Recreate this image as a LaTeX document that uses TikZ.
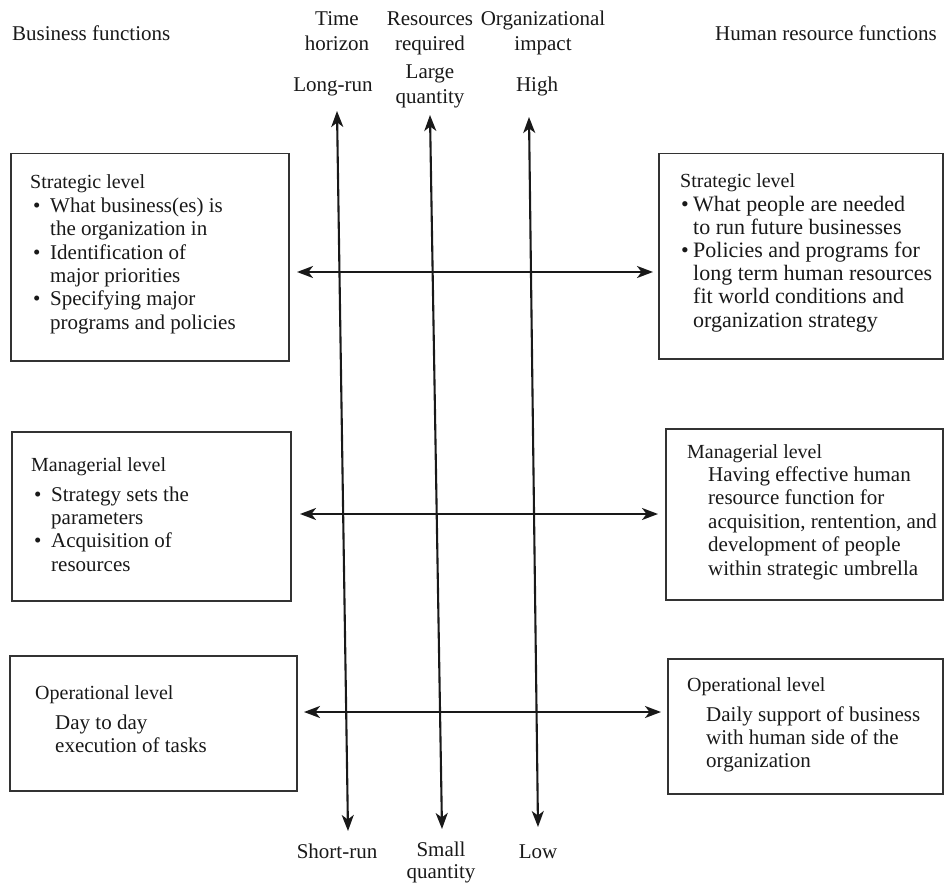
\documentclass[tikz,border=0pt]{standalone}
\usepackage{fontspec}
\setmainfont{Liberation Serif}
\usetikzlibrary{arrows.meta}
% bullet with a given left offset and hanging width, and a plain hanging indent
\newcommand{\itemmark}[2]{\hspace*{#1pt}\makebox[#2pt][l]{\textbullet}}
\newcommand{\hangline}[1]{\hspace*{#1pt}}
\begin{document}
\begin{tikzpicture}[x=1pt,y=-1pt,
  panel/.style={draw=black!80, line width=1.5pt, minimum width=#1, inner sep=0pt, anchor=north west},
  scale arrow/.style={draw=black!90, line width=2.1pt,
    {Stealth[length=16pt,width=12pt,inset=4.5pt]}-{Stealth[length=16pt,width=12pt,inset=4.5pt]}},
  hdr/.style={font=\fontsize{21}{25}\selectfont, inner sep=0pt, text=black!90},
  body/.style={font=\fontsize{21}{23.4}\selectfont, inner sep=0pt, anchor=base west, text=black!90},
  lvl/.style={font=\fontsize{20}{23.4}\selectfont, inner sep=0pt, anchor=base west, text=black!90},
]
\useasboundingbox (0,0) rectangle (945,885);
\fill[white] (0,0) rectangle (945,885);

% column headings
\node[hdr, anchor=base west] (bf) at (12,41) {Business functions};
\node[hdr, anchor=base west] (hrf) at (715,41) {Human resource functions};
\node[hdr, anchor=base] (th) at (337,26) {\begin{tabular}[t]{@{}c@{}}Time\\horizon\end{tabular}};
\node[hdr, anchor=base] (rr) at (430,26) {\begin{tabular}[t]{@{}c@{}}Resources\\required\end{tabular}};
\node[hdr, anchor=base] (oi) at (543,26) {\begin{tabular}[t]{@{}c@{}}Organizational\\impact\end{tabular}};
\node[hdr, anchor=base] (lr) at (333,92) {Long-run};
\node[hdr, anchor=base] (lq) at (430,79) {\begin{tabular}[t]{@{}c@{}}Large\\quantity\end{tabular}};
\node[hdr, anchor=base] (hi) at (537,92) {High};
\node[hdr, anchor=base] (sr) at (337,858) {Short-run};
\node[hdr, anchor=base, font=\fontsize{21}{22}\selectfont] (sq) at (441,856) {\begin{tabular}[t]{@{}c@{}}Small\\quantity\end{tabular}};
\node[hdr, anchor=base] (lo) at (538,858) {Low};

% level boxes
\node[panel=278pt, minimum height=207pt] (bs) at (10,153) {};
\node[panel=284pt, minimum height=205pt] (hs) at (658,153) {};
\node[panel=279pt, minimum height=169pt] (bm) at (11,431) {};
\node[panel=277pt, minimum height=171pt] (hm) at (665,428) {};
\node[panel=287pt, minimum height=135pt] (bo) at (9,655) {};
\node[panel=275pt, minimum height=135pt] (ho) at (667,658) {};

% box texts
\node[lvl] (bsh) at (30,189) {Strategic level};
\node[body] (bst) at (30,212.4) {\begin{tabular}[t]{@{}l@{}}
\itemmark{3}{17}What business(es) is\\
\hangline{20}the organization in\\
\itemmark{3}{17}Identification of\\
\hangline{20}major priorities\\
\itemmark{3}{17}Specifying major\\
\hangline{20}programs and policies
\end{tabular}};
\node[lvl] (hsh) at (680,188) {Strategic level};
\node[body, font=\fontsize{22}{23.2}\selectfont] (hst) at (680,211.2) {\begin{tabular}[t]{@{}l@{}}
\itemmark{1}{12}What people are needed\\
\hangline{13}to run future businesses\\
\itemmark{1}{12}Policies and programs for\\
\hangline{13}long term human resources\\
\hangline{13}fit world conditions and\\
\hangline{13}organization strategy
\end{tabular}};
\node[lvl] (bmh) at (31,471) {Managerial level};
\node[body] (bmt) at (31,501) {\begin{tabular}[t]{@{}l@{}}
\itemmark{3}{17}Strategy sets the\\
\hangline{20}parameters\\
\itemmark{3}{17}Acquisition of\\
\hangline{20}resources
\end{tabular}};
\node[lvl] (hmh) at (687,458) {Managerial level};
\node[body] (hmt) at (708,481.4) {\begin{tabular}[t]{@{}l@{}}
Having effective human\\
resource function for\\
acquisition, rentention, and\\
development of people\\
within strategic umbrella
\end{tabular}};
\node[lvl] (boh) at (35,699) {Operational level};
\node[body] (bot) at (55,729) {\begin{tabular}[t]{@{}l@{}}
Day to day\\
execution of tasks
\end{tabular}};
\node[lvl] (hoh) at (687,691) {Operational level};
\node[body] (hot) at (706,721) {\begin{tabular}[t]{@{}l@{}}
Daily support of business\\
with human side of the\\
organization
\end{tabular}};

% axis end points
\coordinate (t1) at (337,111); \coordinate (b1) at (348,831);
\coordinate (t2) at (430,115); \coordinate (b2) at (442,829);
\coordinate (t3) at (529,117); \coordinate (b3) at (538,827);
\coordinate (l1) at (297,272); \coordinate (r1) at (653,272);
\coordinate (l2) at (300,514); \coordinate (r2) at (658,514);
\coordinate (l3) at (304,712); \coordinate (r3) at (661,712);

% vertical scales
\draw[scale arrow] (t1) -- (b1);
\draw[scale arrow] (t2) -- (b2);
\draw[scale arrow] (t3) -- (b3);
% level links
\draw[scale arrow] (l1) -- (r1);
\draw[scale arrow] (l2) -- (r2);
\draw[scale arrow] (l3) -- (r3);
\end{tikzpicture}
\end{document}
